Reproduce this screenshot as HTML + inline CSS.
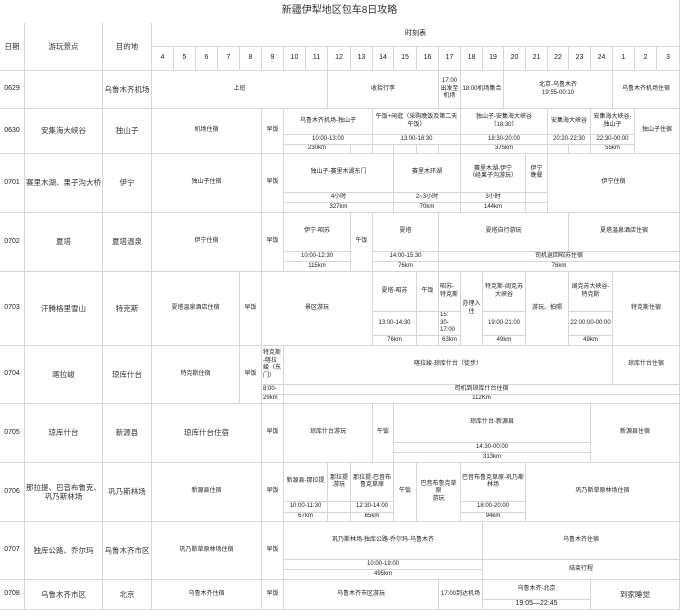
<!DOCTYPE html>
<html><head><meta charset="utf-8"><style>
body{margin:0;background:#fff}
#w{position:relative;width:680px;height:610px;overflow:hidden;background:#fff;font-family:"Liberation Sans","Noto Sans CJK SC",sans-serif;color:#222}
.c{position:absolute;box-sizing:border-box;border-right:1px solid #d6d6d6;border-bottom:1px solid #d6d6d6;display:flex;align-items:center;justify-content:center;text-align:center;font-size:6px;line-height:1.25;overflow:hidden;padding:0 1px;background:#fff}
.b{font-size:7.5px;color:#333;white-space:nowrap;padding:0}
.h{font-size:7px}
.t{font-size:10px;color:#333}
</style></head><body><div id="w">
<div class="c t" style="left:0;top:0;width:680px;height:24px">新疆伊犁地区包车8日攻略</div>
<div class="c b" style="left:0;top:23px;width:25px;height:48px">日期</div>
<div class="c b" style="left:25px;top:23px;width:78px;height:48px">游玩景点</div>
<div class="c b" style="left:103px;top:23px;width:49px;height:48px">目的地</div>
<div class="c h" style="left:152px;top:23px;width:528px;height:24px">时刻表</div>
<div class="c h" style="left:152px;top:47px;width:22px;height:24px">4</div>
<div class="c h" style="left:174px;top:47px;width:22px;height:24px">5</div>
<div class="c h" style="left:196px;top:47px;width:22px;height:24px">6</div>
<div class="c h" style="left:218px;top:47px;width:22px;height:24px">7</div>
<div class="c h" style="left:240px;top:47px;width:22px;height:24px">8</div>
<div class="c h" style="left:262px;top:47px;width:22px;height:24px">9</div>
<div class="c h" style="left:284px;top:47px;width:22px;height:24px">10</div>
<div class="c h" style="left:306px;top:47px;width:22px;height:24px">11</div>
<div class="c h" style="left:328px;top:47px;width:23px;height:24px">12</div>
<div class="c h" style="left:351px;top:47px;width:22px;height:24px">13</div>
<div class="c h" style="left:373px;top:47px;width:21px;height:24px">14</div>
<div class="c h" style="left:394px;top:47px;width:23px;height:24px">15</div>
<div class="c h" style="left:417px;top:47px;width:22px;height:24px">16</div>
<div class="c h" style="left:439px;top:47px;width:22px;height:24px">17</div>
<div class="c h" style="left:461px;top:47px;width:22px;height:24px">18</div>
<div class="c h" style="left:483px;top:47px;width:21px;height:24px">19</div>
<div class="c h" style="left:504px;top:47px;width:22px;height:24px">20</div>
<div class="c h" style="left:526px;top:47px;width:22px;height:24px">21</div>
<div class="c h" style="left:548px;top:47px;width:21px;height:24px">22</div>
<div class="c h" style="left:569px;top:47px;width:22px;height:24px">23</div>
<div class="c h" style="left:591px;top:47px;width:22px;height:24px">24</div>
<div class="c h" style="left:613px;top:47px;width:22px;height:24px">1</div>
<div class="c h" style="left:635px;top:47px;width:22px;height:24px">2</div>
<div class="c h" style="left:657px;top:47px;width:23px;height:24px">3</div>

<!-- 0629 -->
<div class="c h" style="left:0;top:71px;width:25px;height:38px">0629</div>
<div class="c b" style="left:25px;top:71px;width:78px;height:38px"></div>
<div class="c b" style="left:103px;top:71px;width:49px;height:38px">乌鲁木齐机场</div>
<div class="c" style="left:152px;top:71px;width:176px;height:38px">上班</div>
<div class="c" style="left:328px;top:71px;width:111px;height:38px">收拾行李</div>
<div class="c" style="left:439px;top:71px;width:22px;height:38px">17:00<br>出发至<br>机场</div>
<div class="c" style="left:461px;top:71px;width:43px;height:38px">18:00机场集合</div>
<div class="c" style="left:504px;top:71px;width:109px;height:38px">北京-乌鲁木齐<br>19:55-00:10</div>
<div class="c" style="left:613px;top:71px;width:67px;height:38px">乌鲁木齐机场住宿</div>

<!-- 0630 -->
<div class="c h" style="left:0;top:109px;width:25px;height:45px">0630</div>
<div class="c b" style="left:25px;top:109px;width:78px;height:45px">安集海大峡谷</div>
<div class="c b" style="left:103px;top:109px;width:49px;height:45px">独山子</div>
<div class="c" style="left:152px;top:109px;width:110px;height:45px">机场住宿</div>
<div class="c" style="left:262px;top:109px;width:22px;height:45px">早饭</div>
<div class="c" style="left:284px;top:109px;width:89px;height:26px">乌鲁木齐机场-独山子</div>
<div class="c" style="left:284px;top:135px;width:89px;height:10px">10:00-13:00</div>
<div class="c" style="left:284px;top:145px;width:67px;height:9px">230km</div>
<div class="c" style="left:351px;top:145px;width:22px;height:9px"></div>
<div class="c" style="left:373px;top:109px;width:88px;height:26px">午饭+闲逛（采购晚饭及第二天午饭）</div>
<div class="c" style="left:373px;top:135px;width:88px;height:10px">13:00-18:30</div>
<div class="c" style="left:373px;top:145px;width:21px;height:9px"></div>
<div class="c" style="left:394px;top:145px;width:23px;height:9px"></div>
<div class="c" style="left:417px;top:145px;width:22px;height:9px"></div>
<div class="c" style="left:439px;top:145px;width:22px;height:9px"></div>
<div class="c" style="left:461px;top:109px;width:87px;height:26px">独山子-安集海大峡谷<br>（18:30）</div>
<div class="c" style="left:461px;top:135px;width:87px;height:10px">18:30-20:00</div>
<div class="c" style="left:461px;top:145px;width:87px;height:9px">375km</div>
<div class="c" style="left:548px;top:109px;width:43px;height:26px">安集海大峡谷</div>
<div class="c" style="left:548px;top:135px;width:43px;height:10px">20:20-22:30</div>
<div class="c" style="left:548px;top:145px;width:21px;height:9px"></div>
<div class="c" style="left:569px;top:145px;width:22px;height:9px"></div>
<div class="c" style="left:591px;top:109px;width:44px;height:26px">安集海大峡谷-<br>独山子</div>
<div class="c" style="left:591px;top:135px;width:44px;height:10px">22:30-00:00</div>
<div class="c" style="left:591px;top:145px;width:44px;height:9px">55km</div>
<div class="c" style="left:635px;top:109px;width:45px;height:45px">独山子住宿</div>

<!-- 0701 -->
<div class="c h" style="left:0;top:154px;width:25px;height:59px">0701</div>
<div class="c b" style="left:25px;top:154px;width:78px;height:59px">赛里木湖、果子沟大桥</div>
<div class="c b" style="left:103px;top:154px;width:49px;height:59px">伊宁</div>
<div class="c" style="left:152px;top:154px;width:110px;height:59px">独山子住宿</div>
<div class="c" style="left:262px;top:154px;width:22px;height:59px">早饭</div>
<div class="c" style="left:284px;top:154px;width:110px;height:39px">独山子-赛里木湖东门</div>
<div class="c" style="left:284px;top:193px;width:110px;height:10px">4小时</div>
<div class="c" style="left:284px;top:203px;width:110px;height:10px">327km</div>
<div class="c" style="left:394px;top:154px;width:67px;height:39px">赛里木环湖</div>
<div class="c" style="left:394px;top:193px;width:67px;height:10px">2~3小时</div>
<div class="c" style="left:394px;top:203px;width:67px;height:10px">70km</div>
<div class="c" style="left:461px;top:154px;width:65px;height:39px">赛里木湖-伊宁<br>（经果子沟游玩）</div>
<div class="c" style="left:461px;top:193px;width:65px;height:10px">3小时</div>
<div class="c" style="left:461px;top:203px;width:65px;height:10px">144km</div>
<div class="c" style="left:526px;top:154px;width:22px;height:39px">伊宁<br>晚餐</div>
<div class="c" style="left:526px;top:193px;width:22px;height:10px"></div>
<div class="c" style="left:526px;top:203px;width:22px;height:10px"></div>
<div class="c" style="left:548px;top:154px;width:132px;height:59px">伊宁住宿</div>

<!-- 0702 -->
<div class="c h" style="left:0;top:213px;width:25px;height:59px">0702</div>
<div class="c b" style="left:25px;top:213px;width:78px;height:59px">夏塔</div>
<div class="c b" style="left:103px;top:213px;width:49px;height:59px">夏塔温泉</div>
<div class="c" style="left:152px;top:213px;width:110px;height:59px">伊宁住宿</div>
<div class="c" style="left:262px;top:213px;width:22px;height:59px">早饭</div>
<div class="c" style="left:284px;top:213px;width:67px;height:39px">伊宁-昭苏</div>
<div class="c" style="left:284px;top:252px;width:67px;height:10px">10:00-12:30</div>
<div class="c" style="left:284px;top:262px;width:67px;height:10px">115km</div>
<div class="c" style="left:351px;top:213px;width:22px;height:59px">午饭</div>
<div class="c" style="left:373px;top:213px;width:66px;height:39px">夏塔</div>
<div class="c" style="left:373px;top:252px;width:66px;height:10px">14:00-15:30</div>
<div class="c" style="left:373px;top:262px;width:66px;height:10px">76km</div>
<div class="c" style="left:439px;top:213px;width:130px;height:39px">夏塔自行游玩</div>
<div class="c" style="left:569px;top:213px;width:111px;height:39px">夏塔温泉酒店住宿</div>
<div class="c" style="left:439px;top:252px;width:241px;height:10px">司机返回昭苏住宿</div>
<div class="c" style="left:439px;top:262px;width:241px;height:10px">76km</div>

<!-- 0703 -->
<div class="c h" style="left:0;top:272px;width:25px;height:74px">0703</div>
<div class="c b" style="left:25px;top:272px;width:78px;height:74px">汗腾格里雪山</div>
<div class="c b" style="left:103px;top:272px;width:49px;height:74px">特克斯</div>
<div class="c" style="left:152px;top:272px;width:88px;height:74px">夏塔温泉酒店住宿</div>
<div class="c" style="left:240px;top:272px;width:22px;height:74px">早饭</div>
<div class="c" style="left:262px;top:272px;width:111px;height:74px">景区游玩</div>
<div class="c" style="left:373px;top:272px;width:44px;height:40px">夏塔-昭苏</div>
<div class="c" style="left:373px;top:312px;width:44px;height:24px">13:00-14:30</div>
<div class="c" style="left:373px;top:336px;width:44px;height:10px">76km</div>
<div class="c" style="left:417px;top:272px;width:22px;height:40px">午饭</div>
<div class="c" style="left:417px;top:312px;width:22px;height:24px"></div>
<div class="c" style="left:417px;top:336px;width:22px;height:10px"></div>
<div class="c" style="left:439px;top:272px;width:22px;height:40px;justify-content:flex-start;text-align:left">昭苏-<br>特克斯</div>
<div class="c" style="left:439px;top:312px;width:22px;height:24px;justify-content:flex-start;text-align:left">15:<br>30-<br>17:00</div>
<div class="c" style="left:439px;top:336px;width:22px;height:10px">63km</div>
<div class="c" style="left:461px;top:272px;width:22px;height:74px">办理入<br>住</div>
<div class="c" style="left:483px;top:272px;width:43px;height:40px">特克斯-阔克苏<br>大峡谷</div>
<div class="c" style="left:483px;top:312px;width:43px;height:24px">19:00-21:00</div>
<div class="c" style="left:483px;top:336px;width:43px;height:10px">49km</div>
<div class="c" style="left:526px;top:272px;width:43px;height:74px">游玩、拍照</div>
<div class="c" style="left:569px;top:272px;width:44px;height:40px">阔克苏大峡谷-<br>特克斯</div>
<div class="c" style="left:569px;top:312px;width:44px;height:24px">22:00:00-00:00</div>
<div class="c" style="left:569px;top:336px;width:44px;height:10px">49km</div>
<div class="c" style="left:613px;top:272px;width:67px;height:74px">特克斯住宿</div>

<!-- 0704 -->
<div class="c h" style="left:0;top:346px;width:25px;height:58px">0704</div>
<div class="c b" style="left:25px;top:346px;width:78px;height:58px">喀拉峻</div>
<div class="c b" style="left:103px;top:346px;width:49px;height:58px">琼库什台</div>
<div class="c" style="left:152px;top:346px;width:88px;height:58px">特克斯住宿</div>
<div class="c" style="left:240px;top:346px;width:22px;height:58px">早饭</div>
<div class="c" style="left:262px;top:346px;width:22px;height:39px;justify-content:flex-start;text-align:left">特克斯<br>-喀拉<br>峻（东<br>门）</div>
<div class="c" style="left:262px;top:385px;width:22px;height:10px;justify-content:flex-start">8:00-</div>
<div class="c" style="left:262px;top:395px;width:22px;height:9px;justify-content:flex-start">29km</div>
<div class="c" style="left:284px;top:346px;width:329px;height:39px">喀拉峻-琼库什台（徒步）</div>
<div class="c" style="left:613px;top:346px;width:67px;height:39px">琼库什台住宿</div>
<div class="c" style="left:284px;top:385px;width:396px;height:10px">司机到琼库什台住宿</div>
<div class="c" style="left:284px;top:395px;width:396px;height:9px">112Km</div>

<!-- 0705 -->
<div class="c h" style="left:0;top:404px;width:25px;height:59px">0705</div>
<div class="c b" style="left:25px;top:404px;width:78px;height:59px">琼库什台</div>
<div class="c b" style="left:103px;top:404px;width:49px;height:59px">新源县</div>
<div class="c b" style="left:152px;top:404px;width:110px;height:59px">琼库什台住宿</div>
<div class="c" style="left:262px;top:404px;width:22px;height:59px">早饭</div>
<div class="c" style="left:284px;top:404px;width:89px;height:59px">琼库什台游玩</div>
<div class="c" style="left:373px;top:404px;width:21px;height:59px">午饭</div>
<div class="c" style="left:394px;top:404px;width:197px;height:39px">琼库什台-新源县</div>
<div class="c" style="left:394px;top:443px;width:197px;height:10px">14:30-00:00</div>
<div class="c" style="left:394px;top:453px;width:197px;height:10px">313km</div>
<div class="c" style="left:591px;top:404px;width:89px;height:59px">新源县住宿</div>

<!-- 0706 -->
<div class="c h" style="left:0;top:463px;width:25px;height:59px">0706</div>
<div class="c b" style="left:25px;top:463px;width:78px;height:59px">那拉提、巴音布鲁克、<br>巩乃斯林场</div>
<div class="c b" style="left:103px;top:463px;width:49px;height:59px">巩乃斯林场</div>
<div class="c" style="left:152px;top:463px;width:110px;height:59px">新源县住宿</div>
<div class="c" style="left:262px;top:463px;width:22px;height:59px">早饭</div>
<div class="c" style="left:284px;top:463px;width:44px;height:39px">新源县-那拉提</div>
<div class="c" style="left:284px;top:502px;width:44px;height:11px">10:00-11:30</div>
<div class="c" style="left:284px;top:513px;width:44px;height:9px">67km</div>
<div class="c" style="left:328px;top:463px;width:23px;height:39px">那拉提<br>游玩</div>
<div class="c" style="left:328px;top:502px;width:23px;height:11px"></div>
<div class="c" style="left:328px;top:513px;width:23px;height:9px"></div>
<div class="c" style="left:351px;top:463px;width:43px;height:39px">那拉提-巴音布<br>鲁克草原</div>
<div class="c" style="left:351px;top:502px;width:43px;height:11px">12:30-14:00</div>
<div class="c" style="left:351px;top:513px;width:43px;height:9px">65km</div>
<div class="c" style="left:394px;top:463px;width:23px;height:59px">午饭</div>
<div class="c" style="left:417px;top:463px;width:44px;height:59px">巴音布鲁克草原<br>游玩</div>
<div class="c" style="left:461px;top:463px;width:65px;height:39px">巴音布鲁克草原-巩乃斯林场</div>
<div class="c" style="left:461px;top:502px;width:65px;height:11px">18:00-20:00</div>
<div class="c" style="left:461px;top:513px;width:65px;height:9px">94km</div>
<div class="c" style="left:526px;top:463px;width:154px;height:59px">巩乃斯草原林场住宿</div>

<!-- 0707 -->
<div class="c h" style="left:0;top:522px;width:25px;height:58px">0707</div>
<div class="c b" style="left:25px;top:522px;width:78px;height:58px">独库公路、乔尔玛</div>
<div class="c b" style="left:103px;top:522px;width:49px;height:58px">乌鲁木齐市区</div>
<div class="c" style="left:152px;top:522px;width:110px;height:58px">巩乃斯草原林场住宿</div>
<div class="c" style="left:262px;top:522px;width:22px;height:58px">早饭</div>
<div class="c" style="left:284px;top:522px;width:199px;height:38px">巩乃斯林场-独库公路-乔尔玛-乌鲁木齐</div>
<div class="c" style="left:284px;top:560px;width:199px;height:10px">10:00-19:00</div>
<div class="c" style="left:284px;top:570px;width:199px;height:10px">495km</div>
<div class="c" style="left:483px;top:522px;width:197px;height:38px">乌鲁木齐住宿</div>
<div class="c" style="left:483px;top:560px;width:197px;height:20px">结束行程</div>

<!-- 0708 -->
<div class="c h" style="left:0;top:580px;width:25px;height:30px">0708</div>
<div class="c b" style="left:25px;top:580px;width:78px;height:30px">乌鲁木齐市区</div>
<div class="c b" style="left:103px;top:580px;width:49px;height:30px">北京</div>
<div class="c" style="left:152px;top:580px;width:110px;height:30px">乌鲁木齐住宿</div>
<div class="c" style="left:262px;top:580px;width:22px;height:30px">早饭</div>
<div class="c" style="left:284px;top:580px;width:155px;height:30px">乌鲁木齐市区游玩</div>
<div class="c" style="left:439px;top:580px;width:44px;height:30px">17:00到达机场</div>
<div class="c" style="left:483px;top:580px;width:108px;height:20px">乌鲁木齐-北京</div>
<div class="c h" style="left:483px;top:600px;width:108px;height:10px">19:05—22:45</div>
<div class="c b" style="left:591px;top:580px;width:89px;height:30px">到家睡觉</div>
</div></body></html>
